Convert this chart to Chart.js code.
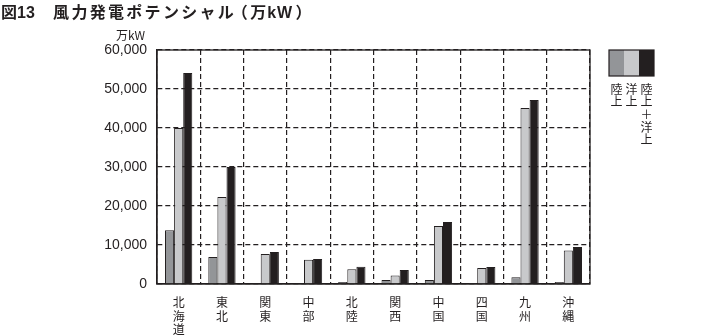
<!DOCTYPE html>
<html>
<head>
<meta charset="utf-8">
<script src="https://cdn.jsdelivr.net/npm/chart.js@4/dist/chart.umd.min.js"></script>
<style>
  body { margin: 0; background: #fff; }
  #wrap { position: relative; width: 728px; height: 335px; }
  #title { position: absolute; left: 1px; top: -1px; font: bold 16px Arial, "Liberation Sans", "Noto Sans CJK JP", sans-serif; color: #231f20; white-space: nowrap; }
  #title .sp { letter-spacing: 2.3px; }
  #title .pp { font-feature-settings: "palt"; margin: 0 3px; }
  #title .kw { letter-spacing: 1px; }
  #unit { position: absolute; left: 116px; top: 26px; font: 12px "Noto Sans CJK JP", sans-serif; color: #231f20; }
  canvas { position: absolute; left: 0; top: 0; }
</style>
</head>
<body>
<div id="wrap">
  <canvas id="c" width="728" height="335"></canvas>
  <div id="title">図13<span class="sp">　風力発電ポテンシャル</span><span class="pp">（</span><span class="kw">万kW</span><span class="pp">）</span></div>
  <div id="unit">万kW</div>
</div>
<script>
// regions and values (万kW)
const regions = ['北海道', '東北', '関東', '中部', '北陸', '関西', '中国', '四国', '九州', '沖縄'];
const seriesNames = ['陸上', '洋上', '陸上＋洋上'];
const land  = [13800, 6900, 200, 200, 500, 1000, 1000, 250, 1700, 500];
const ocean = [40000, 22300, 7700, 6200, 3800, 2200, 14900, 4100, 45100, 8600];
const total = [54100, 30000, 8200, 6400, 4400, 3600, 15900, 4350, 47200, 9500];
const yTicks = [0, 10000, 20000, 30000, 40000, 50000, 60000];

const COLORS = ['#939598', '#c8c9cb', '#231f20'];

// draws solid frame round the plot area
const framePlugin = {
  id: 'frame',
  afterDraw(chart) {
    const { ctx, chartArea: a } = chart;
    ctx.save();
    ctx.strokeStyle = '#231f20';
    ctx.lineWidth = 1.3;
    ctx.strokeRect(a.left, a.top, a.right - a.left, a.bottom - a.top);
    ctx.restore();
  }
};

// legend on the right: three boxes, vertical labels underneath
const sideLegend = {
  id: 'sideLegend',
  afterDraw(chart) {
    const ctx = chart.ctx;
    const x0 = 609, y0 = 50, w = 15, h = 26;
    ctx.save();
    chart.data.datasets.forEach((ds, i) => {
      ctx.fillStyle = ds.backgroundColor;
      ctx.fillRect(x0 + i * w, y0, w, h);
    });
    ctx.strokeStyle = '#231f20';
    ctx.lineWidth = 1.2;
    ctx.strokeRect(x0, y0, w * 3, h);
    ctx.fillStyle = '#231f20';
    ctx.font = '12px "Noto Sans CJK JP", sans-serif';
    ctx.textAlign = 'center';
    ctx.textBaseline = 'top';
    chart.data.datasets.forEach((ds, i) => {
      Array.from(ds.label).forEach((ch, j) => {
        ctx.fillText(ch, x0 + i * w + w / 2, 83 + j * 12.7);
      });
    });
    ctx.restore();
  }
};

new Chart(document.getElementById('c'), {
  type: 'bar',
  data: {
    labels: regions.map(r => Array.from(r)),
    datasets: [land, ocean, total].map((d, i) => ({
      label: seriesNames[i],
      data: d,
      backgroundColor: COLORS[i],
      borderColor: '#231f20',
      borderWidth: 1,
      categoryPercentage: 0.63,
      barPercentage: 1.0
    }))
  },
  options: {
    responsive: false,
    animation: false,
    layout: { padding: { left: 0, right: 138, top: 50, bottom: 0 } },
    plugins: { legend: { display: false }, tooltip: { enabled: false } },
    scales: {
      x: {
        grid: { color: '#231f20', lineWidth: 1.2, drawTicks: false, offset: true },
        border: { color: '#231f20', width: 1.3, dash: [5, 3] },
        ticks: {
          color: '#231f20', padding: 12, maxRotation: 0, autoSkip: false,
          font: { family: '"Noto Sans CJK JP", sans-serif', size: 12, lineHeight: 1.12 }
        },
        afterFit(scale) { scale.height = 51; }
      },
      y: {
        min: 0, max: 60000,
        afterBuildTicks(scale) { scale.ticks = yTicks.map(v => ({ value: v })); },
        grid: { color: '#231f20', lineWidth: 1.2, drawTicks: false },
        border: { color: '#231f20', width: 1.3, dash: [5, 3] },
        ticks: {
          color: '#231f20', padding: 10,
          font: { family: 'Arial, "Liberation Sans", sans-serif', size: 14 },
          callback: v => v.toLocaleString('en-US')
        },
        afterFit(scale) { scale.width = 157; }
      }
    }
  },
  plugins: [framePlugin, sideLegend]
});
</script>
</body>
</html>
